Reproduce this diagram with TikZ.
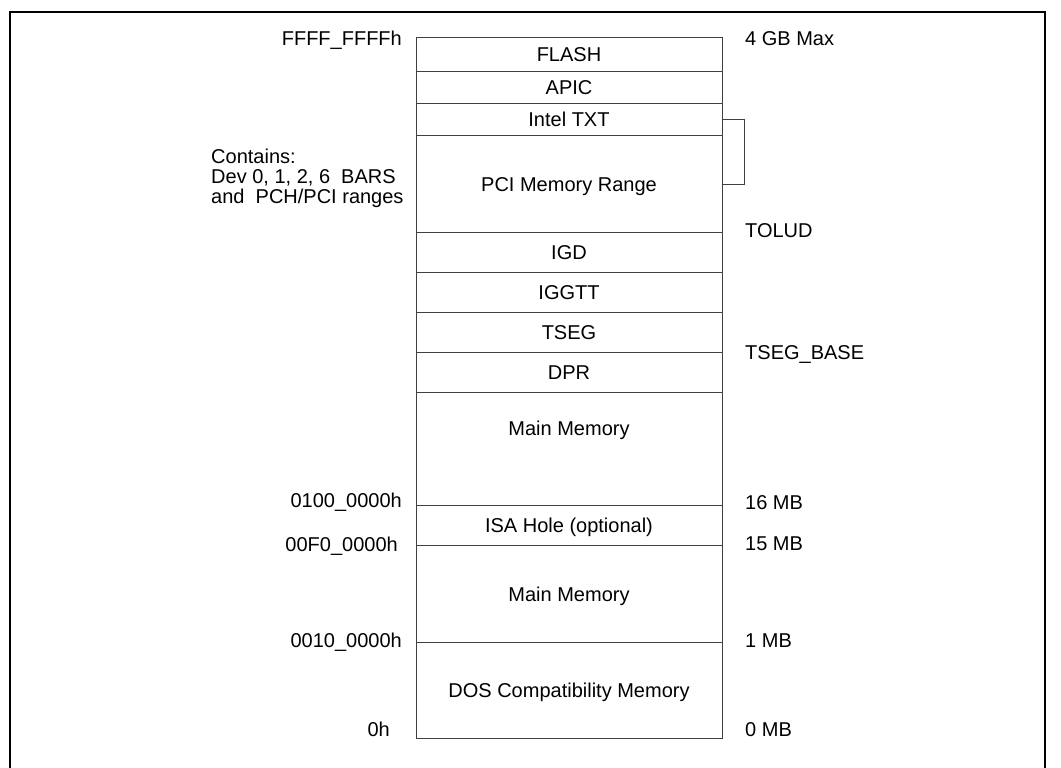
\documentclass[tikz,border=0pt]{standalone}
\usepackage{fontspec}
\setmainfont{Liberation Sans}
\begin{document}
\begin{tikzpicture}[x=1pt,y=-1pt,
  txt/.style={font=\fontsize{20}{20}\selectfont, inner sep=0pt, text height=14.3pt, text depth=0pt},
  region/.style={draw=black!75, line width=1pt, minimum width=306pt, inner sep=0pt, anchor=north, font=\fontsize{20}{20}\selectfont, text height=14.3pt, text depth=0pt},
  leftlab/.style={txt, anchor=east},
  rightlab/.style={txt, anchor=west},
  bracket/.style={draw=black!75, line width=1pt},
  frameline/.style={draw=black, line width=2pt}
]
\useasboundingbox (0,0) rectangle (1061,768);
\coordinate (fa) at (10,770);
\coordinate (fb) at (10,12);
\coordinate (fc) at (1045,12);
\coordinate (fd) at (1045,770);
\draw[frameline] (fa) -- (fb) -- (fc) -- (fd);

\node[region, minimum height=34pt] (flash) at (569,37) {FLASH};
\node[region, minimum height=32pt] (apic) at (569,71) {APIC};
\node[region, minimum height=32pt] (txt) at (569,103) {Intel TXT};
\node[region, minimum height=97pt] (pci) at (569,135) {PCI Memory Range};
\node[region, minimum height=40pt] (igd) at (569,232) {IGD};
\node[region, minimum height=40pt] (iggtt) at (569,272) {IGGTT};
\node[region, minimum height=40pt] (tseg) at (569,312) {TSEG};
\node[region, minimum height=40pt] (dpr) at (569,352) {DPR};
\node[region, minimum height=113pt] (main2) at (569,392) {};
\node[txt] (main2t) at (569,428) {Main Memory};
\node[region, minimum height=40pt] (isa) at (569,505) {ISA Hole (optional)};
\node[region, minimum height=97pt] (main1) at (569,545) {Main Memory};
\node[region, minimum height=96pt] (dos) at (569,642) {DOS Compatibility Memory};

\draw[bracket] (txt.east) -- ++(22,0) |- (pci.east);

\node[leftlab] (lffff) at (402,38) {FFFF\_FFFFh};
\node[leftlab] (l0100) at (402,500) {0100\_0000h};
\node[leftlab] (l00f0) at (398,544) {00F0\_0000h};
\node[leftlab] (l0010) at (402,640) {0010\_0000h};
\node[leftlab] (l0) at (390,729) {0h};

\node[txt, anchor=north west, align=left, text height=, text depth=] (contains) at (211,148.5)
  {Contains:\\Dev 0, 1, 2, 6\ \ BARS\\and\ \ PCH/PCI ranges};

\node[rightlab] (r4gb) at (745,38) {4 GB Max};
\node[rightlab] (rtolud) at (745,230) {TOLUD};
\node[rightlab] (rtseg) at (745,352) {TSEG\_BASE};
\node[rightlab] (r16) at (745,502) {16 MB};
\node[rightlab] (r15) at (745,543) {15 MB};
\node[rightlab] (r1) at (745,640) {1 MB};
\node[rightlab] (r0) at (745,729) {0 MB};
\end{tikzpicture}
\end{document}
